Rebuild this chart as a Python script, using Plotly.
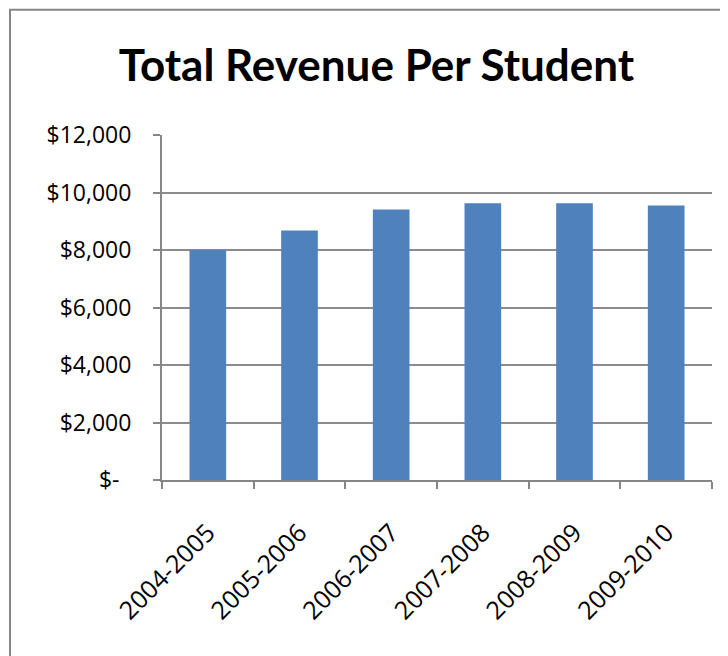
import plotly.graph_objects as go

categories = ["2004-2005", "2005-2006", "2006-2007", "2007-2008", "2008-2009", "2009-2010"]
revenue = [8000, 8680, 9410, 9630, 9630, 9550]
ytick_vals = [0, 2000, 4000, 6000, 8000, 10000, 12000]
ytick_labels = ["$-\u00a0\u00a0", "$2,000", "$4,000", "$6,000", "$8,000", "$10,000", "$12,000"]

# page body has an 8px margin, so the figure is drawn 8px smaller and offset
OFF = 8
W, H = 728 - OFF, 656 - OFF
L, R, T, B = 162 - OFF, 712 - OFF, 134.5 - OFF, 480 - OFF

fig = go.Figure(go.Bar(x=categories, y=revenue, marker=dict(color="#4F81BD", line=dict(width=0))))

fig.update_layout(
    width=W, height=H,
    margin=dict(l=L, r=W - R, t=T, b=H - B, pad=0),
    paper_bgcolor="white", plot_bgcolor="white",
    bargap=0.6,
    showlegend=False,
    title=dict(text="<b>Total Revenue Per Student</b>", x=(376.5 - OFF) / W, xref="container",
               xanchor="center", y=1 - (66 - OFF) / H, yref="container", yanchor="middle",
               font=dict(family="Lato", size=44, color="black")),
    font=dict(family="Open Sans", color="black"),
)

fig.update_xaxes(
    type="category", tickson="boundaries", ticks="outside", ticklen=7, tickwidth=2, tickcolor="#868686",
    showline=True, linecolor="#868686", linewidth=2, showgrid=False,
    tickangle=-45, tickfont=dict(family="Open Sans", size=25, color="black"), ticklabelstandoff=26,
)
fig.update_yaxes(
    range=[0, 12000], tickvals=ytick_vals, ticktext=ytick_labels,
    ticks="outside", ticklen=7, tickwidth=2, tickcolor="#868686",
    showline=True, linecolor="#868686", linewidth=2,
    showgrid=True, gridcolor="#8C8C8C", gridwidth=2, zeroline=False,
    tickfont=dict(family="Open Sans", size=23, color="black"), ticklabelstandoff=17,
)

fig.add_shape(type="rect", xref="paper", yref="paper",
              x0=(10 - OFF - L) / (R - L), x1=2.0, y0=-2.0, y1=1 + (T - (9 - OFF)) / (B - T),
              line=dict(color="#868686", width=2), fillcolor="rgba(0,0,0,0)", layer="below")

fig.write_html("out.html")
